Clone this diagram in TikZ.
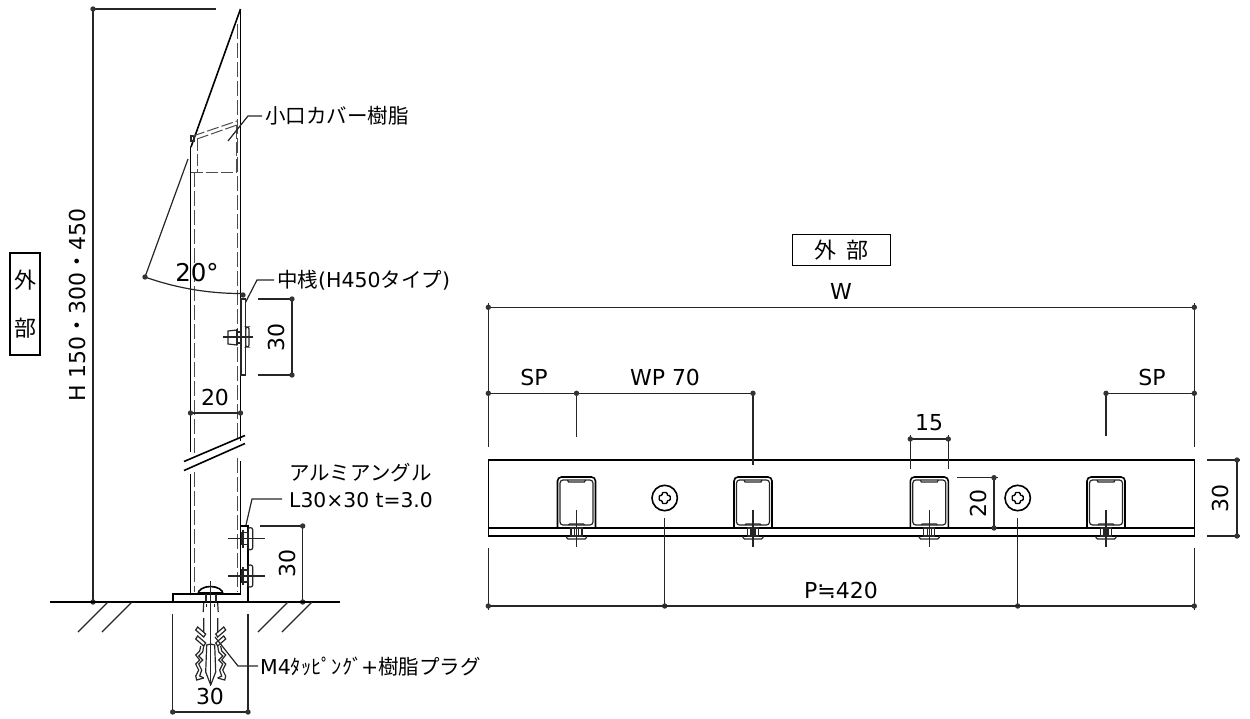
\documentclass[tikz,border=0pt]{standalone}
\usepackage{fontspec}
\setmainfont{DejaVu Sans}
\newfontfamily\cjk{Noto Sans CJK JP}
\tikzset{
  outline/.style={line width=1.6pt,black},
  thin line/.style={line width=1.2pt,black!85},
  hidden/.style={line width=1pt,black!70,dash pattern=on 15pt off 4pt},
  dimdot/.style={fill=black!80},
  label/.style={inner sep=0pt,font=\fontsize{22}{24}\selectfont},
  jlabel/.style={inner sep=0pt,anchor=west,font=\fontsize{20.5}{24}\selectfont\cjk},
  framebox/.style={draw,line width=1.1pt,inner sep=0pt,font=\fontsize{22}{24}\selectfont\cjk}
}
\begin{document}
\begin{tikzpicture}[x=1pt,y=-1pt]
\useasboundingbox (0,0) rectangle (1250,718);
% side view
\draw[outline] (240.5,9) -- (240.5,441);
\draw[outline] (240.5,461) -- (240.5,594) -- (172.7,594) -- (172.7,602) -- (248,602) -- (248,526) -- (240.5,526);
\draw[outline] (240.5,9) -- (191,147);
\draw[outline] (190.5,147) -- (190.5,452);
\draw[outline] (190.5,474) -- (190.5,594);
\draw[hidden] (237,24) -- (237,440);
\draw[hidden] (237,458) -- (237,592);
\draw[hidden] (194,172) -- (194,456);
\draw[hidden] (194,472) -- (194,592);
% cover
\draw[thin line] (191,136) rectangle (194,141);
\draw[hidden,dash pattern=on 12pt off 3pt] (193,136) -- (237,121);
\draw[hidden,dash pattern=on 12pt off 3pt] (197,139) -- (237,125);
\draw[hidden,dash pattern=on 12pt off 3pt] (197,139) -- (197,172);
\draw[hidden,dash pattern=on 12pt off 3pt] (191,172.5) -- (237,172.5);
\draw[hidden,dash pattern=on 14pt off 3pt] (236,125) -- (236,172.5);
\draw[thin line] (228,141) -- (248,116) -- (262,116);
\node[jlabel] (coverlabel) at (265,116) {小口カバー樹脂};
% break
\draw[outline] (184,461.5) -- (245,435.5);
\draw[outline] (184,470.5) -- (245,443.5);
% angle 20
\draw[thin line] (145,277) -- (188,159);
\draw[thin line] (145,277) arc [start angle=109.6, end angle=89.5, radius=284.6];
\fill[dimdot] (145,277) circle (2.7) (243,295) circle (2.7);
\node[label,font=\fontsize{24.5}{26}\selectfont] (anglelabel) at (197,273) {20°};
% middle rail
\draw[thin line] (241,299) rectangle (245.7,375);
\draw[thin line] (245.7,302) -- (257,280) -- (274,280);
\node[label,anchor=west,font=\fontsize{20.5}{24}\selectfont] (raillabel) at (277,280) {{\cjk 中桟}(H450{\cjk タイプ})};
\draw[thin line,fill=white] (228,331) -- (237,330) -- (237,345) -- (228,344) -- cycle;
\draw[thin line] (237,332) rectangle (241,343);
\draw[thin line,rounded corners=2] (245.7,327) rectangle (249,347);
\draw[thin line] (223,337) -- (253,337);
\draw[thin line] (237,329) -- (237,345);
% dims of side view
\draw[thin line] (258,299) -- (292,299) -- (292,375) -- (258,375);
\fill[dimdot] (292,299) circle (2.7) (292,375) circle (2.7);
\node[label,rotate=90] (railheight) at (276,337) {30};
\draw[thin line] (190.5,413) -- (240.5,413);
\fill[dimdot] (190.5,413) circle (2.7) (240.5,413) circle (2.7);
\node[label] (wallwidth) at (215,397) {20};
\draw[thin line] (216,9) -- (93,9) -- (93,602);
\fill[dimdot] (93,9) circle (2.7) (93,602) circle (2.7);
\node[label,rotate=90] (heightlabel) at (77,305) {H 150{\cjk ・}300{\cjk ・}450};
\node[framebox,minimum width=30pt,minimum height=102pt,align=center] (outsideleft) at (25,304) {外\\[24pt]部};
% angle bolts
\foreach \by in {538.7,576} {
  \draw[thin line] (241.5,\by-6) rectangle (248,\by+6);
  \draw[thin line,rounded corners=2] (248,\by-11) rectangle (252.7,\by+11);
  \draw[thin line] (228,\by) -- (265,\by);
  \draw[thin line] (243,\by-9) -- (243,\by+9);
}
\draw[thin line] (246,525) -- (252,499) -- (282,499);
\node[jlabel] (anglelabela) at (289,473) {アルミアングル};
\node[label,anchor=west,font=\fontsize{20.3}{24}\selectfont] (anglelabelb) at (289,500) {L30×30 t=3.0};
\draw[thin line] (260,526) -- (302.7,526) -- (302.7,602);
\fill[dimdot] (302.7,526) circle (2.7) (302.7,602) circle (2.7);
\node[label,rotate=90] (angleheight) at (287,563) {30};
% floor
\draw[outline] (50,602) -- (340,602);
\foreach \hx in {78,102,258,282} {
  \draw[thin line] (\hx,632) -- (\hx+30,602);
}
% screw and plug
\draw[outline,fill=white] (198,594) arc [start angle=180, end angle=360, x radius=12.5, y radius=7.5] -- cycle;
\draw[line width=2.4pt] (199,593.5) -- (222,593.5);
\draw[thin line] (206,594) -- (206,602) (216,594) -- (216,602);
\draw[thin line] (210.7,581) -- (210.7,686);
\foreach \sx in {-1,1} {
\begin{scope}[shift={(210.7,0)},xscale=\sx]
  \draw[thin line] (7,603) -- (7.5,612) (7,618) -- (7,632);
  \draw[thin line] (4,604) -- (4,607);
  \draw[thin line] (5,634) -- (13,627) -- (15,630) -- (7,637) -- cycle;
  \draw[thin line] (5,643) -- (13,636) -- (15,639) -- (7,646) -- cycle;
  \draw[thin line] (7,646) -- (8,652) -- (12,656) -- (8,660) -- (12,664) -- (9,670) -- (11,676) -- (7,678);
  \draw[thin line] (10,646) -- (11,651) -- (15,655) -- (11,660) -- (15,664) -- (12,670) -- (15,676) -- (14,680) -- (7,678);
  \draw[thin line] (0,685) -- (5,672) -- (4,645) -- (0,644);
\end{scope}
}
\draw[thin line] (215,637) -- (238,666) -- (258,666);
\node[label,anchor=west,font=\fontsize{20.5}{24}\selectfont] (screwlabel) at (260,667) {M4{\cjk ﾀｯﾋﾟﾝｸﾞ}\kern-1.5pt+{\cjk 樹脂プラグ}};
\draw[thin line] (172.7,614) -- (172.7,712) -- (248,712) -- (248,614);
\fill[dimdot] (172.7,712) circle (2.7) (248,712) circle (2.7);
\node[label] (basewidth) at (210,696) {30};
% plan view
\draw[outline] (488.3,460) rectangle (1194.3,536);
\draw[outline] (488.3,528) -- (1194.3,528);
\foreach \cx in {576.5,753,929.3,1106} {
  \draw[outline,rounded corners=4] (\cx-19,528) -- (\cx-19,477) -- (\cx+19,477) -- (\cx+19,528);
  \draw[thin line,rounded corners=3] (\cx-16.5,525) -- (\cx-16.5,480) -- (\cx+16.5,480) -- (\cx+16.5,525) -- cycle;
  \draw[thin line] (\cx-9,480) -- (\cx-8,482) -- (\cx+8,482) -- (\cx+9,480);
  \draw[thin line] (\cx-8,525) -- (\cx-7,524) -- (\cx+7,524) -- (\cx+8,525);
  \draw[thin line] (\cx-5.5,528) rectangle (\cx+5.5,536);
  \draw[thin line,rounded corners=1.5] (\cx-10,536) -- (\cx-10,539) -- (\cx+10,539) -- (\cx+10,536);
  \draw[thin line] (\cx-2,528) -- (\cx-2,536) (\cx+2,528) -- (\cx+2,536);
  \draw[thin line] (\cx,510) -- (\cx,547);
}
\foreach \sx in {664.7,1017.7} {
  \draw[outline] (\sx,498) circle (12.7);
  \draw[line width=1.4pt,rounded corners=1] (\sx-2.5,492.5) -- (\sx+2.5,492.5) -- (\sx+2.5,495.5) -- (\sx+5.5,495.5) -- (\sx+5.5,500.5) -- (\sx+2.5,500.5) -- (\sx+2.5,503.5) -- (\sx-2.5,503.5) -- (\sx-2.5,500.5) -- (\sx-5.5,500.5) -- (\sx-5.5,495.5) -- (\sx-2.5,495.5) -- cycle;
  \draw[thin line] (\sx,518) -- (\sx,606);
  \fill[dimdot] (\sx,606) circle (2.7);
}
% dims of plan view
\draw[thin line] (488.3,303) -- (488.3,447) (1194.3,303) -- (1194.3,447);
\draw[thin line] (488.3,307.3) -- (1196,307.3);
\fill[dimdot] (488.3,307.3) circle (2.7) (1194.3,307.3) circle (2.7);
\node[label] (widthlabel) at (841,291) {W};
\node[framebox,minimum width=98pt,minimum height=31pt] (outsidetop) at (841.5,250) {外\kern10pt部};
\draw[thin line] (488.3,393.3) -- (753,393.3);
\draw[thin line] (576.5,393.3) -- (576.5,437) (753,393.3) -- (753,465);
\fill[dimdot] (488.3,393.3) circle (2.7) (576.5,393.3) circle (2.7) (753,393.3) circle (2.7);
\node[label] (spleft) at (534,377) {SP};
\node[label] (pitchlabel) at (665,377) {WP 70};
\draw[thin line] (1106,436) -- (1106,393.3) -- (1194.3,393.3);
\fill[dimdot] (1106,393.3) circle (2.7) (1194.3,393.3) circle (2.7);
\node[label] (spright) at (1152,377) {SP};
\draw[thin line] (910.3,435) -- (910.3,469) (948.3,435) -- (948.3,469);
\draw[thin line] (910.3,439) -- (948.3,439);
\fill[dimdot] (910.3,439) circle (2.7) (948.3,439) circle (2.7);
\node[label] (channelwidth) at (929,423) {15};
\draw[thin line] (957,477.7) -- (998,477.7) (994,477.7) -- (994,528);
\fill[dimdot] (994,477.7) circle (2.7) (994,528) circle (2.7);
\node[label,rotate=90] (channelheight) at (978,503) {20};
\draw[thin line] (1207,460) -- (1240,460) (1237,460) -- (1237,536) (1207,536) -- (1240,536);
\fill[dimdot] (1237,460) circle (2.7) (1237,536) circle (2.7);
\node[label,rotate=90] (plateheight) at (1220,498) {30};
\draw[thin line] (488.3,548) -- (488.3,610) (1194.3,548) -- (1194.3,610);
\draw[thin line] (488.3,606) -- (1194.3,606);
\fill[dimdot] (488.3,606) circle (2.7) (1194.3,606) circle (2.7);
\node[label] (screwpitch) at (841,590) {P≒420};
\end{tikzpicture}
\end{document}
